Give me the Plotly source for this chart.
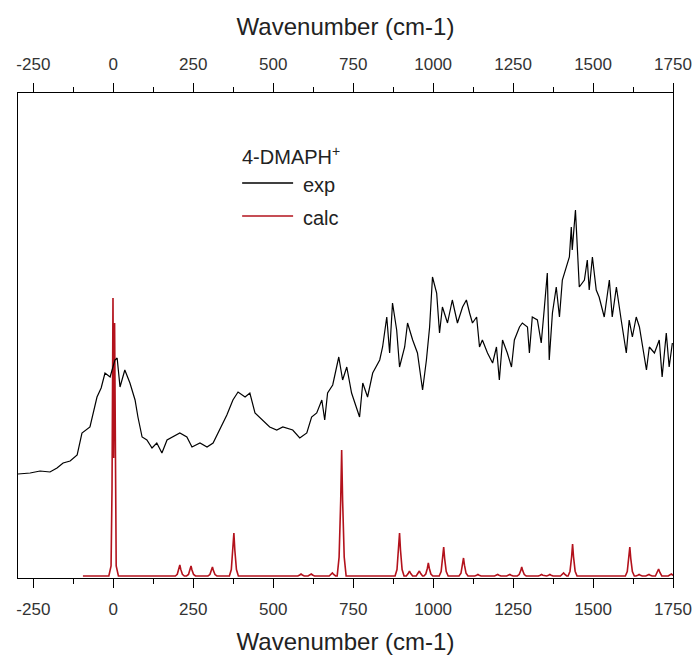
import plotly.graph_objects as go

# ---------------- data ----------------
exp_wavenumber = [-298, -260, -229, -198, -176, -157, -135, -113, -98, -73, -51, -38, -26, -10, 5, 12,
                  21, 36, 52, 68, 77, 90, 105, 121, 136, 152, 168, 186, 208, 230, 246, 271, 293, 312,
                  327, 355, 374, 390, 412, 427, 443, 467, 489, 511, 530, 561, 583, 605, 620, 636, 652,
                  661, 670, 686, 705, 717, 730, 745, 761, 770, 780, 795, 811, 833, 842, 855, 864, 873,
                  886, 895, 911, 920, 936, 951, 967, 979, 989, 998, 1011, 1020, 1029, 1045, 1060, 1076,
                  1092, 1104, 1114, 1123, 1136, 1145, 1154, 1170, 1186, 1198, 1207, 1217, 1232, 1245,
                  1254, 1270, 1279, 1295, 1301, 1310, 1326, 1338, 1348, 1357, 1363, 1373, 1385, 1395,
                  1404, 1417, 1426, 1432, 1435, 1445, 1451, 1457, 1473, 1482, 1488, 1498, 1510, 1519,
                  1535, 1551, 1560, 1573, 1588, 1604, 1613, 1623, 1635, 1645, 1667, 1676, 1692, 1707,
                  1716, 1729, 1738, 1748]
exp_intensity = [104, 105, 107, 106, 110, 115, 117, 123, 145, 151, 181, 190, 205, 201, 218, 220,
                 191, 208, 195, 178, 161, 141, 138, 130, 135, 125, 138, 141, 145, 141, 131, 135, 131, 135,
                 145, 163, 178, 186, 181, 185, 165, 158, 151, 148, 151, 148, 140, 145, 161, 165, 178,
                 158, 185, 193, 221, 198, 211, 185, 168, 161, 195, 181, 205, 218, 231, 261, 225, 275,
                 248, 211, 231, 255, 238, 225, 188, 218, 251, 301, 285, 245, 271, 255, 278, 255,
                 271, 278, 265, 255, 261, 231, 238, 225, 215, 231, 198, 238, 225, 211,
                 238, 251, 255, 251, 225, 261, 258, 235, 271, 305, 218, 265, 291, 261,
                 298, 311, 321, 351, 328, 368, 328, 291, 298, 318, 288, 321, 288, 281,
                 261, 298, 261, 291, 258, 225, 258, 241, 261, 251, 208, 231, 225, 238,
                 201, 245, 211, 235]

calc_wavenumber = [-95,
                   -14, -7, -4, -1, 1, 4, 6, 9, 16,
                   194, 200, 205, 208, 211, 216, 222,
                   229, 235, 240, 243, 246, 251, 257,
                   296, 302, 307, 310, 313, 318, 324,
                   363, 369, 374, 377, 380, 385, 391,
                   577, 583, 587, 591, 597,
                   609, 615, 619, 623, 629,
                   675, 681, 685, 689, 695,
                   700, 706, 711, 714, 717, 722, 728,
                   881, 887, 892, 895, 898, 903, 909,
                   916, 922, 926, 930, 936,
                   947, 953, 957, 961, 967,
                   971, 977, 982, 985, 988, 993, 999,
                   1019, 1025, 1030, 1033, 1036, 1041, 1047,
                   1081, 1087, 1092, 1095, 1098, 1103, 1109,
                   1130, 1136, 1140, 1144, 1150,
                   1192, 1198, 1202, 1206, 1212,
                   1230, 1236, 1240, 1244, 1250,
                   1263, 1269, 1274, 1277, 1280, 1285, 1291,
                   1329, 1335, 1339, 1343, 1349,
                   1355, 1361, 1365, 1369, 1375,
                   1398, 1404, 1408, 1412, 1418,
                   1422, 1428, 1433, 1436, 1439, 1444, 1450,
                   1601, 1607, 1612, 1615, 1618, 1623, 1629,
                   1634, 1640, 1644, 1648, 1654,
                   1665, 1671, 1675, 1679, 1685,
                   1695, 1701, 1705, 1709, 1715,
                   1735, 1741, 1745, 1749, 1755]
calc_intensity = [2,
                  2, 12, 90, 280, 120, 255, 90, 12, 2,
                  2, 3.7, 8.6, 13, 8.6, 3.7, 2,
                  2, 3.5, 8, 12, 8, 3.5, 2,
                  2, 3.4, 7.4, 11, 7.4, 3.4, 2,
                  2, 8.5, 27.8, 45, 27.8, 8.5, 2,
                  2, 3, 4, 3, 2,
                  2, 3, 4, 3, 2,
                  2, 3.5, 5, 3.5, 2,
                  2, 20.9, 77.6, 128, 77.6, 20.9, 2,
                  2, 8.5, 27.8, 45, 27.8, 8.5, 2,
                  2, 4.5, 7, 4.5, 2,
                  2, 4.5, 7, 4.5, 2,
                  2, 4, 9.8, 15, 9.8, 4, 2,
                  2, 6.4, 19.4, 31, 19.4, 6.4, 2,
                  2, 4.7, 12.8, 20, 12.8, 4.7, 2,
                  2, 2.8, 3.5, 2.8, 2,
                  2, 2.8, 3.5, 2.8, 2,
                  2, 2.8, 3.5, 2.8, 2,
                  2, 3.4, 7.4, 11, 7.4, 3.4, 2,
                  2, 2.8, 3.5, 2.8, 2,
                  2, 2.8, 3.5, 2.8, 2,
                  2, 3.5, 5, 3.5, 2,
                  2, 6.8, 21.2, 34, 21.2, 6.8, 2,
                  2, 6.4, 19.4, 31, 19.4, 6.4, 2,
                  2, 2.8, 3.5, 2.8, 2,
                  2, 2.8, 3.5, 2.8, 2,
                  2, 5.5, 9, 5.5, 2,
                  2, 3, 4, 3, 2]

tick_values = [-250, 0, 250, 500, 750, 1000, 1250, 1500, 1750]
tick_labels = ["-250", "0", "250", "500", "750", "1000", "1250", "1500", "1750"]

legend_title = "4-DMAPH<sup>+</sup>"
series_names = ["exp", "calc"]
series_colors = ["#000000", "#b3121c"]

x_range = [-298, 1750]
y_range = [0, 485]

FONT = "Liberation Sans, Arial, sans-serif"

fig = go.Figure()
# experimental spectrum drawn on the top axis (same range as bottom axis)
fig.add_trace(go.Scatter(x=exp_wavenumber, y=exp_intensity, mode="lines", name=series_names[0],
                         xaxis="x2", yaxis="y",
                         line=dict(color=series_colors[0], width=1.2), showlegend=False))
fig.add_trace(go.Scatter(x=calc_wavenumber, y=calc_intensity, mode="lines", name=series_names[1],
                         line=dict(color=series_colors[1], width=1.6), showlegend=False))


def axis_style(standoff):
    return dict(
        range=x_range, tickmode="array", tickvals=tick_values, ticktext=tick_labels,
        ticks="outside", ticklen=9, tickwidth=1.3, tickcolor="#000",
        showline=True, linecolor="#000", linewidth=1.3, showgrid=False, zeroline=False,
        automargin=False,
        tickfont=dict(family=FONT, size=17, color="#333"),
        minor=dict(ticks="outside", ticklen=5, tickwidth=1.3, tickcolor="#000", dtick=125,
                   tick0=-125, showgrid=False),
        title=dict(text="Wavenumber (cm-1)", font=dict(family=FONT, size=24, color="#222"),
                   standoff=standoff),
        ticklabelstandoff=6,
    )


fig.update_layout(
    width=698, height=655,
    margin=dict(l=17.5, r=24.5, t=93, b=77),
    paper_bgcolor="white", plot_bgcolor="white",
    showlegend=False,
    xaxis=dict(side="bottom", anchor="y", **axis_style(18)),
    xaxis2=dict(side="top", overlaying="x", anchor="y", **axis_style(12)),
    yaxis=dict(range=y_range, showticklabels=False, ticks="", showline=True, mirror=True,
               linecolor="#000", linewidth=1.3, showgrid=False, zeroline=False, automargin=False),
)

# manual legend
lx0, lx1 = 0.3422, 0.42
fig.add_annotation(xref="paper", yref="paper", x=0.3395, y=0.872, text=legend_title, showarrow=False,
                   xanchor="left", yanchor="middle", font=dict(family=FONT, size=20, color="#222"))
for name, color, yl in zip(series_names, series_colors, [0.8144, 0.7464]):
    fig.add_shape(type="line", xref="paper", yref="paper", x0=lx0, x1=lx1, y0=yl, y1=yl,
                  line=dict(color=color, width=1.3))
    fig.add_annotation(xref="paper", yref="paper", x=0.432, y=yl - 0.004, text=name, showarrow=False,
                       xanchor="left", yanchor="middle", font=dict(family=FONT, size=20, color="#222"))

fig.write_html("out.html")
